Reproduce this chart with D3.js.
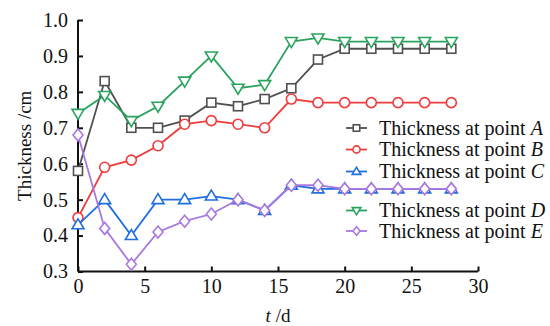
<!DOCTYPE html>
<html>
<head>
<meta charset="utf-8">
<script src="https://cdn.jsdelivr.net/npm/d3@7"></script>
<style>
  body { margin: 0; background: #fff; }
</style>
</head>
<body>
<div id="chart"></div>
<script>
const days = [0, 2, 4, 6, 8, 10, 12, 14, 16, 18, 20, 22, 24, 26, 28];
const pointA = [0.58, 0.83, 0.70, 0.70, 0.72, 0.77, 0.76, 0.78, 0.81, 0.89, 0.92, 0.92, 0.92, 0.92, 0.92];
const pointB = [0.45, 0.59, 0.61, 0.65, 0.71, 0.72, 0.71, 0.70, 0.78, 0.77, 0.77, 0.77, 0.77, 0.77, 0.77];
const pointC = [0.43, 0.50, 0.40, 0.50, 0.50, 0.51, 0.50, 0.47, 0.54, 0.53, 0.53, 0.53, 0.53, 0.53, 0.53];
const pointD = [0.74, 0.79, 0.72, 0.76, 0.83, 0.90, 0.81, 0.82, 0.94, 0.95, 0.94, 0.94, 0.94, 0.94, 0.94];
const pointE = [0.68, 0.42, 0.32, 0.41, 0.44, 0.46, 0.50, 0.47, 0.54, 0.54, 0.53, 0.53, 0.53, 0.53, 0.53];
const xTicks = [0, 5, 10, 15, 20, 25, 30];
const yTicks = [0.3, 0.4, 0.5, 0.6, 0.7, 0.8, 0.9, 1.0];

const series = [
  { name: "A", values: pointA, color: "#505050", symbol: "square" },
  { name: "B", values: pointB, color: "#f03c3c", symbol: "circle" },
  { name: "C", values: pointC, color: "#1f6fe0", symbol: "up" },
  { name: "D", values: pointD, color: "#2aa35e", symbol: "down" },
  { name: "E", values: pointE, color: "#a978e0", symbol: "diamond" }
];

const FONT = "'Liberation Serif'";
const width = 550, height = 326;
const margin = { left: 78, right: 72, top: 20, bottom: 54.5 };

const svg = d3.select("#chart").append("svg")
  .attr("width", width)
  .attr("height", height)
  .style("font-family", FONT);

const x = d3.scaleLinear().domain([0, 30]).range([margin.left, width - margin.right]);
const y = d3.scaleLinear().domain([0.3, 1.0]).range([height - margin.bottom, margin.top]);

// axes (ticks point inward)
const xAxis = svg.append("g")
  .attr("transform", `translate(0,${y(0.3)})`)
  .call(d3.axisBottom(x).tickValues(xTicks).tickSize(-5).tickPadding(7).tickFormat(d3.format("d")));
const yAxis = svg.append("g")
  .attr("transform", `translate(${x(0)},0)`)
  .call(d3.axisLeft(y).tickValues(yTicks).tickSize(-5).tickPadding(10).tickFormat(d3.format(".1f")));

[xAxis, yAxis].forEach(g => {
  g.attr("font-family", FONT);
  g.select(".domain").attr("stroke", "#111").attr("stroke-width", 2);
  g.selectAll(".tick line").attr("stroke", "#111").attr("stroke-width", 2);
  g.selectAll(".tick text").style("font-family", FONT).style("font-size", "20px").attr("fill", "#111");
});
xAxis.select(".domain").attr("d", `M${x(0)},0H${x(30)}`);
yAxis.select(".domain").attr("d", `M0,${y(0.3)}V${y(1.0)}`);

// axis titles
svg.append("text")
  .attr("x", x(15))
  .attr("y", height - 4)
  .attr("text-anchor", "middle")
  .style("font-family", FONT)
  .style("font-size", "19px")
  .attr("fill", "#111")
  .html('<tspan font-style="italic">t</tspan> /d');

svg.append("text")
  .attr("transform", `translate(31,${(y(0.3) + y(1.0)) / 2}) rotate(-90)`)
  .attr("text-anchor", "middle")
  .style("font-family", FONT)
  .style("font-size", "19px")
  .attr("fill", "#111")
  .text("Thickness /cm");

function drawMarker(g, type, cx, cy, color, k = 1) {
  const s = 4.5 * k;
  let el;
  if (type === "square") {
    el = g.append("rect").attr("x", cx - s).attr("y", cy - s).attr("width", 2 * s).attr("height", 2 * s);
  } else if (type === "circle") {
    el = g.append("circle").attr("cx", cx).attr("cy", cy).attr("r", 5 * k);
  } else if (type === "up") {
    el = g.append("path").attr("d", `M${cx},${cy - 6 * k}L${cx + 6 * k},${cy + 4 * k}L${cx - 6 * k},${cy + 4 * k}Z`);
  } else if (type === "down") {
    el = g.append("path").attr("d", `M${cx},${cy + 6 * k}L${cx + 6 * k},${cy - 4 * k}L${cx - 6 * k},${cy - 4 * k}Z`);
  } else {
    el = g.append("path").attr("d", `M${cx},${cy - 6 * k}L${cx + 5 * k},${cy}L${cx},${cy + 6 * k}L${cx - 5 * k},${cy}Z`);
  }
  el.attr("fill", "#fff").attr("stroke", color).attr("stroke-width", 1.6);
}

const line = d3.line().x((d, i) => x(days[i])).y(d => y(d));

series.forEach(s => {
  const g = svg.append("g");
  g.append("path")
    .datum(s.values)
    .attr("d", line)
    .attr("fill", "none")
    .attr("stroke", s.color)
    .attr("stroke-width", 1.8);
  s.values.forEach((v, i) => drawMarker(g, s.symbol, x(days[i]), y(v), s.color));
});

// legend
const legendRows = [128, 149.5, 171.5, 210.5, 231];
series.forEach((s, i) => {
  const g = svg.append("g").attr("transform", `translate(346,${legendRows[i]})`);
  g.append("line").attr("x1", 0).attr("x2", 21).attr("y1", 0).attr("y2", 0)
    .attr("stroke", s.color).attr("stroke-width", 1.8);
  drawMarker(g, s.symbol, 10.5, 0, s.color, 0.72);
  g.append("text")
    .attr("x", 33)
    .attr("y", 6.5)
    .style("font-family", FONT)
    .style("font-size", "20px")
    .attr("fill", "#111")
    .html(`Thickness at point <tspan font-style="italic">${s.name}</tspan>`);
});
</script>
</body>
</html>
